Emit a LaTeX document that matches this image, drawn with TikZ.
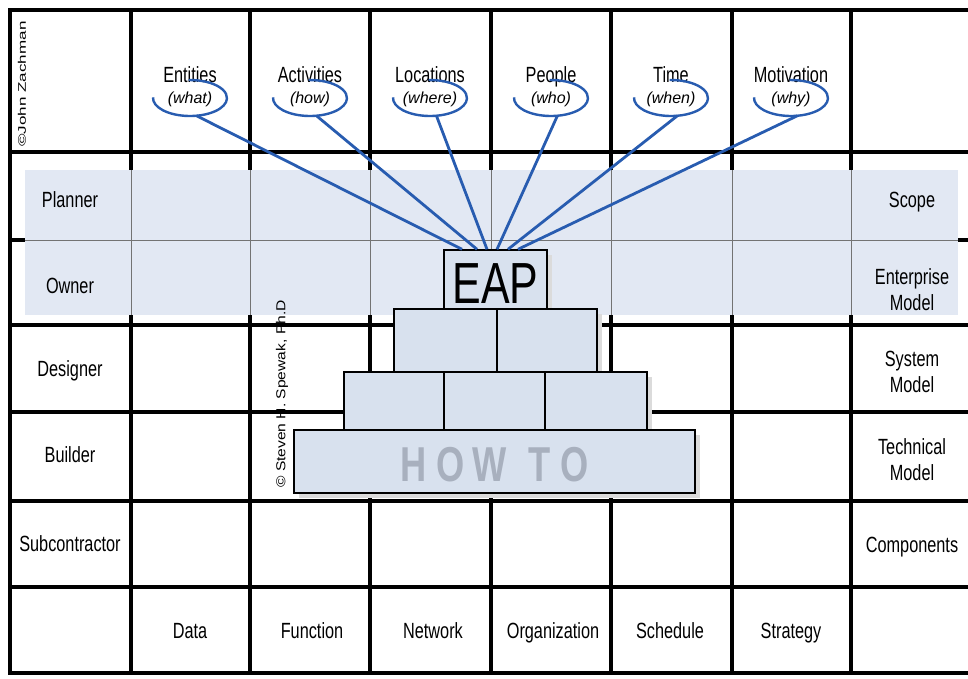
\documentclass[tikz,border=0pt]{standalone}
\usepackage{fontspec}
\setmainfont{Liberation Sans}
\newfontfamily\narrowfont[FakeStretch=0.74]{Liberation Sans}
\newfontfamily\longfont[FakeStretch=1.55]{Liberation Sans}
\newfontfamily\signfont[FakeStretch=1.2]{Liberation Sans}
\usepackage{tikz}

\definecolor{bandfill}{RGB}{226,232,243}
\definecolor{brickfill}{RGB}{216,225,238}
\definecolor{lassoblue}{RGB}{40,92,176}
\definecolor{howgray}{RGB}{168,176,190}

\tikzset{
  gridline/.style={line width=3.3pt, line cap=rect},
  bandline/.style={line width=0.8pt, black!55},
  brick/.style={draw, line width=1.4pt, fill=brickfill},
  brickshade/.style={fill=black!14},
  lasso/.style={line width=2.4pt, lassoblue},
  spoke/.style={line width=2.8pt, lassoblue},
  cell/.style={font=\narrowfont\fontsize{22}{26}\selectfont, align=center, inner sep=0pt},
  tag/.style={cell, text height=16pt, text depth=5pt},
  ask/.style={font=\itshape\fontsize{16}{18}\selectfont, inner sep=0pt},
}

\begin{document}
\begin{tikzpicture}[x=1pt, y=-1pt]
  \useasboundingbox (0,0) rectangle (968,678);

  %% the frame
  \foreach \y in {10,152,240,325,412,501,587,673}
    \draw[gridline] (10,\y) -- (975,\y);
  \foreach \x in {10,131,250,370,491,611,732,851}
    \draw[gridline] (\x,10) -- (\x,673);

  %% shaded band over the two upper rows
  \fill[bandfill] (25,170) rectangle (958,315);
  \foreach \x in {131,250,370,491,611,732,851}
    \draw[bandline] (\x,170) -- (\x,315);
  \draw[bandline] (25,240) -- (958,240);

  %% perspectives (left) and models (right)
  \node[tag] (planner) at (70,202) {Planner};
  \node[tag] (owner) at (70,288) {Owner};
  \node[tag] (designer) at (70,371) {Designer};
  \node[tag] (builder) at (70,457) {Builder};
  \node[tag] (subcon) at (70,546) {Subcontractor};

  \node[tag] (scope) at (912,202) {Scope};
  \node[cell] (entmodel) at (912,290) {Enterprise\\Model};
  \node[cell] (sysmodel) at (912,372) {System\\Model};
  \node[cell] (techmodel) at (912,460) {Technical\\Model};
  \node[tag] (components) at (912,547) {Components};

  %% bottom row
  \foreach \x/\txt [count=\i] in {190/Data, 312/Function, 433/Network,
      553/Organization, 670/Schedule, 791/Strategy}
    \node[tag] (dim\i) at (\x,633) {\txt};

  \node[rotate=90, inner sep=0pt, font=\longfont\fontsize{11}{11}\selectfont]
    (zachman) at (22,84) {\textcopyright John Zachman};
  \node[rotate=90, inner sep=0pt, font=\signfont\fontsize{13}{13}\selectfont]
    (spewak) at (282,394) {\textcopyright\ Steven H. Spewak, Ph.D};

  %% pyramid
  \foreach \l/\t/\r/\b in {294/430/695/493, 344/372/647/430,
      394/309/597/372, 444/250/547/309}
    \fill[brickshade] (\l+5,\t+5) rectangle (\r+5,\b+5);

  \node[brick, minimum width=401pt, minimum height=63pt, text height=41pt,
    font=\narrowfont\bfseries\fontsize{49}{49}\selectfont, text=howgray]
    (howto) at (494.5,461.5) {H\kern10pt O\kern8pt W\kern22pt T\kern10pt O};
  \draw[brick] (344,372) rectangle (647,430);
  \draw[line width=1.4pt] (444,372) -- (444,430) (545,372) -- (545,430);
  \draw[brick] (394,309) rectangle (597,372);
  \draw[line width=1.4pt] (497,309) -- (497,372);
  \node[brick, minimum width=103pt, minimum height=59pt, text height=48.5pt,
    font=\narrowfont\fontsize{58}{58}\selectfont]
    (eap) at (495.5,279.5) {EAP};

  %% the six questions, tied to the top brick
  \foreach \x/\thing/\q/\off [count=\i] in {190/Entities/what/-33.5,
      310/Activities/how/-18.5, 430/Locations/where/-8.5,
      551/People/who/1.5, 671/Time/when/12.5, 791/Motivation/why/22.5}{
    \node[tag] (head\i) at (\x,77) {\thing};
    \node[ask] (ask\i) at (\x,99) {(\q)};
    \draw[lasso] ([shift={(178:37pt and 18pt)}]\x,98)
      arc[start angle=178, end angle=452, x radius=37pt, y radius=18pt];
    \coordinate (tail\i) at ([shift={(-80:37pt and 18pt)}]\x,98);
    \coordinate (tip\i) at ([xshift=\off pt]eap.north);
    \draw[spoke] (tail\i) -- (tip\i); % question -> EAP
  }

\end{tikzpicture}
\end{document}
